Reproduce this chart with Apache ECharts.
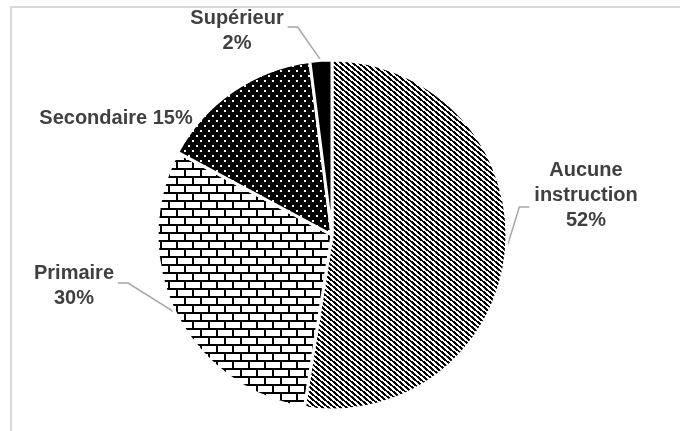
<!DOCTYPE html>
<html>
<head>
<meta charset="utf-8">
<script src="https://cdn.jsdelivr.net/npm/echarts@6/dist/echarts.min.js"></script>
<style>
  html, body { margin: 0; padding: 0; background: #fff; }
  #main { width: 680px; height: 431px; }
</style>
</head>
<body>
<div id="main"></div>
<script>
// niveau d'instruction
const categories = ['Aucune instruction', 'Primaire', 'Secondaire', 'Supérieur']
const values = [52, 30, 15, 2]

// motifs de remplissage (noir et blanc)
const makeTile = (w, h, isBlack) => {
  const c = document.createElement('canvas')
  c.width = w
  c.height = h
  const ctx = c.getContext('2d')
  ctx.fillStyle = '#fff'
  ctx.fillRect(0, 0, w, h)
  ctx.fillStyle = '#000'
  for (let y = 0; y < h; y++) {
    for (let x = 0; x < w; x++) {
      if (isBlack(x, y)) ctx.fillRect(x, y, 1, 1)
    }
  }
  return c
}

// hachures diagonales
const stripes = makeTile(6, 5, (x, y) => (((x - y * 1.2) % 6) + 6) % 6 < 3)
// briques
const bricks = makeTile(16, 16, (x, y) => {
  if (y % 8 < 2) return true
  if (y < 8) return x < 2
  return x >= 8 && x < 10
})
// points blancs sur fond noir
const dots = makeTile(8, 10, (x, y) => {
  const a = x < 2 && y < 2
  const b = x >= 4 && x < 6 && y >= 5 && y < 7
  return !(a || b)
})

const fills = [
  { image: stripes, repeat: 'repeat' },
  { image: bricks, repeat: 'repeat' },
  { image: dots, repeat: 'repeat' },
  '#000'
]

// position des étiquettes : x, y (centre), décalage du trait, côté
const labelPos = [
  { x: 586, y: 195, lineDy: 12, side: 'left' },
  { x: 74, y: 286, lineDy: -3, side: 'right' },
  { x: 116, y: 118, lineDy: 0, side: 'none' },
  { x: 237, y: 31, lineDy: -4, side: 'right' }
]

const chart = echarts.init(document.getElementById('main'))

const option = {
  animation: false,
  graphic: [
    {
      type: 'rect',
      shape: { x: 11, y: 7, width: 720, height: 480 },
      style: { fill: 'none', stroke: '#d9d9d9', lineWidth: 2 },
      silent: true
    }
  ],
  series: [
    {
      type: 'pie',
      center: [332, 235],
      radius: 175,
      startAngle: 90,
      clockwise: true,
      avoidLabelOverlap: false,
      itemStyle: {
        borderColor: '#fff',
        borderWidth: 3
      },
      label: {
        show: true,
        position: 'outside',
        fontFamily: '"Liberation Sans", Arial, sans-serif',
        fontWeight: 'bold',
        fontSize: 20,
        lineHeight: 25,
        color: '#404040',
        align: 'center',
        formatter: p =>
          p.name.replace(' ', '\n') + (p.dataIndex === 2 ? ' ' : '\n') + p.value + '%'
      },
      labelLine: {
        show: true,
        length: 10,
        length2: 10,
        lineStyle: { color: '#a6a6a6', width: 1.5 }
      },
      labelLayout: params => {
        const pos = labelPos[params.dataIndex]
        const w = params.labelRect.width
        const out = { x: pos.x, y: pos.y, align: 'center', verticalAlign: 'middle' }
        const pts = params.labelLinePoints
        if (pts && pos.side !== 'none') {
          const ly = pos.y + pos.lineDy
          let endX, elbowX
          if (pos.side === 'left') {
            endX = pos.x - w / 2 - 5
            elbowX = endX - 10
          } else {
            endX = pos.x + w / 2 + 4
            elbowX = endX + 10
          }
          out.labelLinePoints = [pts[0], [elbowX, ly], [endX, ly]]
        }
        return out
      },
      data: categories.map((name, i) => ({
        name,
        value: values[i],
        itemStyle: { color: fills[i] },
        labelLine: { show: i !== 2 }
      }))
    }
  ]
}

chart.setOption(option)
</script>
</body>
</html>
